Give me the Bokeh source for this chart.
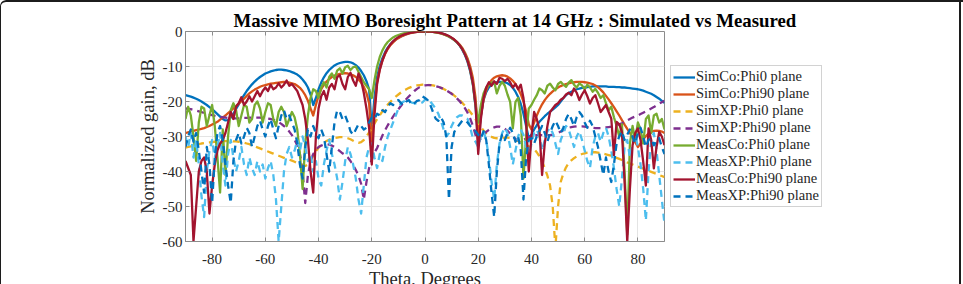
from bokeh.plotting import figure
from bokeh.models import (Legend, LegendItem, LinearAxis, FixedTicker, Range1d,
                          PrintfTickFormatter)
from bokeh.embed import file_html
from bokeh.resources import INLINE

# Elevation cut, 1 degree steps
theta = list(range(-90, 91))

sim_co_phi0 = [
    -18.2, -18.4, -18.6, -18.9, -19.2, -19.6, -20.0, -20.5, -21.0, -21.6,
    -22.2, -22.9, -23.6, -24.3, -25.0, -25.4, -25.3, -24.6, -23.5, -22.1,
    -20.8, -19.4, -18.2, -17.0, -16.0, -15.1, -14.3, -13.6, -13.0, -12.5,
    -12.0, -11.7, -11.4, -11.2, -11.0, -10.9, -10.9, -11.0, -11.1, -11.3,
    -11.6, -11.9, -12.3, -12.9, -13.7, -14.7, -16.0, -18.0, -21.0, -19.0,
    -16.5, -14.6, -13.1, -11.9, -11.0, -10.3, -9.7, -9.3, -9.0, -8.8,
    -8.7, -8.7, -8.8, -9.1, -9.6, -10.3, -11.3, -12.5, -14.2, -16.5,
    -28.0, -19.0, -13.0, -9.8, -7.6, -5.9, -4.6, -3.6, -2.9, -2.3,
    -1.8, -1.4, -1.05, -0.75, -0.5, -0.32, -0.2, -0.1, -0.04, -0.01,
    0.0, -0.01, -0.04, -0.1, -0.2, -0.33, -0.5, -0.75, -1.05, -1.45,
    -1.9, -2.45, -3.1, -4.0, -5.2, -6.7, -8.7, -11.4, -15.2, -21.5,
    -31.0, -24.0, -19.5, -17.3, -16.0, -15.2, -14.8, -14.5, -14.4, -14.4,
    -14.5, -14.8, -15.3, -16.1, -17.2, -18.7, -20.7, -23.5, -27.0, -30.5,
    -29.5, -28.0, -26.8, -25.8, -25.0, -24.2, -23.5, -22.9, -22.3, -21.7,
    -21.0, -20.0, -19.0, -18.2, -17.6, -17.2, -16.8, -16.5, -16.3, -16.1,
    -16.0, -15.9, -15.8, -15.7, -15.7, -15.7, -15.7, -15.7, -15.7, -15.8,
    -15.8, -15.8, -15.9, -15.9, -16.0, -16.0, -16.1, -16.2, -16.3, -16.4,
    -16.5, -16.7, -16.9, -17.2, -17.5, -17.8, -18.2, -18.7, -19.2, -19.8, -20.4,
]

sim_co_phi90 = [
    -29.0, -28.8, -28.6, -28.4, -28.2, -28.0, -27.8, -27.6, -27.3, -27.0,
    -26.6, -26.2, -25.8, -25.2, -24.6, -24.0, -23.3, -22.7, -22.0, -21.3,
    -20.6, -19.9, -19.2, -18.4, -17.7, -17.1, -16.6, -16.2, -15.8, -15.5,
    -15.3, -15.1, -14.9, -14.8, -14.7, -14.6, -14.5, -14.4, -14.5, -14.6,
    -14.8, -15.0, -15.5, -16.1, -17.0, -18.2, -19.8, -22.0, -24.0, -21.0,
    -18.3, -16.5, -15.2, -14.3, -13.6, -13.0, -12.6, -12.3, -12.1, -12.0,
    -11.9, -12.0, -12.2, -12.5, -13.0, -13.7, -14.6, -15.8, -17.6, -20.5,
    -32.0, -22.0, -14.5, -10.8, -8.3, -6.4, -5.0, -3.9, -3.1, -2.4,
    -1.9, -1.45, -1.1, -0.8, -0.55, -0.36, -0.22, -0.12, -0.05, -0.01,
    0.0, -0.02, -0.06, -0.13, -0.24, -0.38, -0.56, -0.8, -1.1, -1.45,
    -1.85, -2.35, -2.95, -3.7, -4.7, -6.0, -7.7, -10.0, -13.3, -19.0,
    -30.0, -24.0, -19.5, -16.8, -15.0, -13.9, -13.2, -12.8, -12.6, -12.5,
    -12.6, -12.9, -13.4, -14.1, -15.0, -16.3, -17.9, -20.0, -22.8, -26.5,
    -28.0, -26.0, -24.0, -22.3, -20.8, -19.6, -18.6, -17.8, -17.1, -16.5,
    -16.0, -15.6, -15.3, -15.0, -14.8, -14.6, -14.5, -14.4, -14.4, -14.4,
    -14.5, -14.6, -14.8, -15.0, -15.4, -15.9, -16.6, -17.4, -18.4, -19.4,
    -20.5, -21.6, -22.8, -24.0, -25.3, -26.6, -27.8, -29.0, -30.3, -31.6,
    -33.0, -32.0, -30.8, -29.9, -29.2, -28.7, -28.4, -28.3, -28.4, -28.6, -29.0,
]

sim_xp_phi0 = [
    -33.2, -33.0, -32.8, -32.6, -32.4, -32.2, -32.0, -31.9, -31.8, -31.7,
    -31.6, -31.5, -31.4, -31.4, -31.3, -31.3, -31.3, -31.3, -31.4, -31.4,
    -31.5, -31.6, -31.8, -32.0, -32.2, -32.5, -32.8, -33.1, -33.4, -33.7,
    -34.0, -34.3, -34.6, -34.9, -35.2, -35.5, -35.8, -36.1, -36.4, -36.6,
    -36.9, -37.2, -37.6, -38.0, -38.3, -38.4, -38.0, -37.0, -35.5, -34.2,
    -33.2, -32.4, -31.8, -31.3, -30.9, -30.6, -30.4, -30.3, -30.2, -30.2,
    -30.3, -30.5, -30.8, -31.2, -31.6, -31.8, -31.6, -31.0, -30.0, -28.8,
    -27.5, -26.3, -25.0, -23.9, -22.8, -21.8, -20.9, -20.1, -19.3, -18.6,
    -18.0, -17.4, -16.9, -16.5, -16.1, -15.8, -15.6, -15.4, -15.3, -15.2,
    -15.2, -15.2, -15.3, -15.4, -15.6, -15.8, -16.1, -16.4, -16.8, -17.2,
    -17.7, -18.3, -18.9, -19.6, -20.4, -21.2, -22.1, -23.0, -24.0, -25.1,
    -26.2, -27.3, -28.3, -29.1, -29.7, -30.1, -30.4, -30.5, -30.5, -30.4,
    -30.3, -30.3, -30.4, -30.6, -30.9, -31.3, -31.7, -32.1, -32.5, -32.8,
    -33.0, -33.6, -34.5, -35.7, -37.2, -39.0, -41.2, -44.0, -50.0, -62.0,
    -50.0, -43.0, -40.5, -38.8, -37.6, -36.8, -36.2, -35.7, -35.3, -35.0,
    -34.8, -34.6, -34.5, -34.5, -34.5, -34.6, -34.7, -34.9, -35.1, -35.3,
    -35.5, -35.8, -36.1, -36.4, -36.7, -37.0, -37.4, -37.7, -38.0, -38.3,
    -38.6, -38.9, -39.2, -39.5, -39.8, -40.1, -40.4, -40.7, -41.0, -41.3, -41.6,
]

sim_xp_phi90 = [
    -22.0, -22.1, -22.2, -22.4, -22.6, -22.8, -23.0, -23.3, -23.5, -23.7,
    -23.9, -24.1, -24.3, -24.4, -24.5, -24.6, -24.7, -24.7, -24.8, -24.8,
    -24.8, -24.8, -24.7, -24.7, -24.6, -24.6, -24.6, -24.6, -24.6, -24.7,
    -24.8, -24.9, -25.0, -25.2, -25.5, -25.9, -26.4, -27.0, -27.7, -28.6,
    -29.6, -30.9, -32.6, -35.0, -40.0, -49.0, -41.0, -37.0, -35.0, -33.8,
    -33.0, -32.6, -32.3, -32.2, -32.3, -32.6, -33.0, -33.6, -34.2, -34.8,
    -35.3, -36.0, -37.0, -38.2, -39.6, -41.2, -43.5, -48.0, -43.0, -39.0,
    -36.5, -34.6, -33.3, -31.5, -29.7, -28.2, -26.8, -25.5, -24.3, -23.2,
    -22.2, -21.2, -20.2, -19.3, -18.5, -17.7, -17.0, -16.4, -15.9, -15.6,
    -15.4, -15.3, -15.3, -15.4, -15.6, -15.8, -16.1, -16.4, -16.8, -17.3,
    -17.8, -18.4, -19.1, -19.9, -20.8, -21.9, -23.2, -24.9, -27.0, -29.6,
    -31.8, -30.5, -29.5, -28.7, -28.1, -27.7, -27.4, -27.2, -27.2, -27.4,
    -27.8, -28.4, -29.2, -30.0, -30.7, -31.1, -31.2, -31.0, -30.6, -30.2,
    -29.9, -29.7, -29.6, -29.6, -29.6, -29.6, -29.6, -29.6, -29.5, -29.3,
    -29.0, -28.6, -28.2, -27.8, -27.5, -27.3, -27.2, -27.1, -27.1, -27.1,
    -27.2, -27.3, -27.4, -27.5, -27.6, -27.6, -27.6, -27.5, -27.4, -27.3,
    -27.2, -27.0, -26.8, -26.5, -26.2, -25.8, -25.4, -25.0, -24.6, -24.3,
    -24.0, -23.6, -23.2, -22.8, -22.4, -22.0, -21.6, -21.1, -20.6, -20.2, -19.8,
]

meas_co_phi0 = [
    -25.0, -21.5, -24.0, -30.0, -37.0, -26.0, -21.5, -22.0, -27.0, -24.0,
    -21.0, -27.0, -36.0, -46.0, -28.0, -41.0, -30.0, -22.5, -20.5, -22.5,
    -27.0, -24.0, -21.0, -21.5, -26.0, -25.0, -21.0, -20.0, -22.0, -26.0,
    -23.0, -20.5, -21.0, -25.0, -27.0, -23.0, -21.5, -23.0, -27.0, -25.0,
    -23.0, -24.5, -28.0, -35.0, -45.0, -32.0, -24.0, -19.0, -16.5, -17.0,
    -19.0, -16.0, -14.5, -16.0, -13.0, -12.0, -13.5, -11.2, -10.5, -12.0,
    -10.2, -9.8, -11.0, -10.2, -10.0, -11.5, -13.0, -14.5, -15.5, -16.5,
    -19.0, -14.0, -10.0, -7.3, -5.4, -4.0, -3.0, -2.3, -1.7, -1.3,
    -1.0, -0.75, -0.55, -0.4, -0.28, -0.18, -0.1, -0.05, -0.02, 0.0,
    0.0, -0.02, -0.06, -0.12, -0.22, -0.35, -0.52, -0.75, -1.05, -1.4,
    -1.85, -2.4, -3.05, -3.9, -5.0, -6.4, -8.3, -11.0, -15.0, -21.0,
    -26.0, -21.0, -17.7, -16.0, -15.3, -14.6, -14.4, -17.7, -15.5, -14.4,
    -15.5, -18.0, -20.1, -27.7, -20.1, -19.0, -24.0, -42.0, -30.0, -22.0,
    -21.0, -19.5, -18.2, -16.3, -16.8, -17.7, -15.5, -14.9, -16.0, -16.8,
    -15.0, -14.4, -15.2, -15.8, -14.6, -13.9, -15.2, -16.0, -14.8, -15.4,
    -16.5, -15.2, -16.0, -17.2, -16.4, -17.5, -19.0, -18.2, -20.5, -22.5,
    -21.5, -24.5, -27.0, -30.0, -26.5, -40.0, -58.0, -32.0, -27.0, -31.0,
    -26.0, -28.0, -32.0, -25.0, -24.0, -29.0, -24.0, -23.5, -26.0, -25.0, -28.0,
]

meas_xp_phi0 = [
    -30, -33, -29, -36, -31, -38, -47, -53, -40, -34,
    -31, -36, -33, -29, -38, -44, -35, -31, -36, -40,
    -37, -33, -38, -41, -36, -39, -41, -37, -40, -38,
    -42, -39, -37, -41, -48, -60, -50, -40, -35, -33,
    -36, -34, -31, -34, -30, -33, -37, -35, -40, -37,
    -42, -44, -38, -34, -31, -35, -38, -42, -48, -43,
    -37, -33, -35, -38, -42, -48, -52, -44, -36, -33,
    -32, -36, -39, -35, -37, -33, -30, -28, -26, -24,
    -22, -20.5, -20, -19.8, -20, -20.3, -20.5, -20.6, -20.6, -20.3,
    -19.5, -19.2, -20, -21, -22, -23.5, -25.5, -28, -30, -29,
    -27, -25.5, -24.5, -24, -24, -24.5, -25, -27.5, -30.5, -31.5,
    -33, -30, -28.5, -31, -36, -43, -48, -38, -32, -29,
    -27.5, -29, -33, -38, -34, -30, -28, -29.5, -33, -36,
    -32, -29, -28, -30, -34, -31, -28.5, -27.5, -29, -32,
    -35, -31, -29, -27, -28, -30.5, -33, -30, -28.5, -31,
    -34, -37, -39, -33, -30, -29, -31.5, -29, -27.5, -30,
    -34, -39, -45, -50, -42, -33, -31, -36, -32, -29.5,
    -33, -38, -45, -54, -40, -31, -29, -34, -41, -48, -55,
]

meas_co_phi90 = [
    -37, -39, -41, -60, -50, -40, -37, -36, -40, -52,
    -44, -38, -34, -32, -31, -29, -26, -23, -25, -21.5,
    -20.5, -18.8, -21, -20, -18.5, -20, -18.5, -17, -18.5, -17,
    -16, -17, -15.2, -16.5, -16, -14.8, -16, -15.2, -14, -15.5,
    -15, -16, -17, -19, -21, -25, -31, -40, -46, -30,
    -22, -18.5, -17, -19.5, -16, -15, -16.5, -13, -12.5, -15,
    -16.5, -13, -11.8, -14, -15.5, -12, -14, -17.5, -22, -27.5,
    -38, -24, -15, -11, -8.3, -6.3, -4.8, -3.7, -2.8, -2.1,
    -1.6, -1.2, -0.9, -0.65, -0.45, -0.3, -0.18, -0.1, -0.04, -0.01,
    0.0, -0.02, -0.06, -0.12, -0.2, -0.32, -0.48, -0.7, -0.95, -1.3,
    -1.75, -2.3, -3.0, -3.9, -5.0, -6.5, -8.4, -11.0, -14.8, -21.0,
    -35, -25, -19, -16, -14.5, -15.5, -14.2, -15, -13.2, -13.5,
    -14.2, -13.5, -14.5, -16, -15, -16.5, -15.2, -19, -26, -40,
    -30, -23, -25, -28, -41, -32, -27, -23, -22, -21,
    -20.5, -19.5, -19, -18, -17.5, -18.2, -16.3, -17.5, -19.6, -18,
    -16.8, -18.5, -20.6, -19, -18.2, -20.5, -23, -22, -21, -23,
    -24.9, -35.3, -25.8, -26.5, -28.7, -43, -60, -45, -32.5, -29,
    -27.7, -31, -37.2, -44, -27.7, -31, -39.1, -33, -28.7, -30, -32.5,
]

meas_xp_phi90 = [
    -33, -30, -28, -31.5, -29, -34, -40, -46, -33, -38,
    -49, -36, -29, -27, -31, -38, -44, -49, -37, -31,
    -29, -32, -30, -27.5, -29, -33, -30, -27, -25.5, -28,
    -30, -27, -25, -28, -30.5, -27, -24, -22.5, -25, -24,
    -26, -28, -32, -38, -42, -33, -28, -30, -27, -29,
    -30.5, -28, -30, -35, -40, -33, -26, -22.5, -23, -25,
    -24, -26, -28.5, -29.5, -28, -26.5, -27, -28, -27.5, -26,
    -24.5, -25, -23.5, -24, -22.5, -23, -21.5, -20.5, -21, -20,
    -19.6, -20.5, -21, -20, -19.6, -21, -20.5, -19.8, -19.6, -18.5,
    -19, -19.6, -21, -23, -24.9, -25.5, -24.5, -26, -30, -48,
    -33, -28.7, -27.5, -26.5, -25.5, -25.3, -26, -27, -27.7, -28.5,
    -29.5, -30.5, -28.5, -31, -38, -46, -53, -40, -32, -29.5,
    -31, -29, -27.5, -29, -31.5, -30, -34, -48, -36, -31,
    -30.5, -32, -30, -28.5, -27, -29, -31.5, -29, -27, -25.5,
    -27, -29, -27.5, -25, -23.5, -25, -27, -24.5, -23, -24,
    -26, -27.5, -25.5, -27, -30, -33, -37, -41, -36, -40,
    -43, -38, -32, -30, -28.5, -31, -29.5, -28, -30, -32,
    -29, -27.5, -30, -33, -31, -30.5, -32.5, -31, -30.5, -33, -35,
]

series_names = [
    "SimCo:Phi0 plane", "SimCo:Phi90 plane", "SimXP:Phi0 plane", "SimXP:Phi90 plane",
    "MeasCo:Phi0 plane", "MeasXP:Phi0 plane", "MeasCo:Phi90 plane", "MeasXP:Phi90 plane",
]
series_values = [
    sim_co_phi0, sim_co_phi90, sim_xp_phi0, sim_xp_phi90,
    meas_co_phi0, meas_xp_phi0, meas_co_phi90, meas_xp_phi90,
]
series_colors = ["#0072BD", "#D95319", "#EDB120", "#7E2F8E",
                 "#77AC30", "#4DBEEE", "#A2142F", "#0072BD"]
series_dashed = [False, False, True, True, False, True, False, True]

x_ticks = [-80, -60, -40, -20, 0, 20, 40, 60, 80]
y_ticks = [-60, -50, -40, -30, -20, -10, 0]

SERIF = "Liberation Serif"
INK = "#262626"
EDGE = "#8c8c8c"
FRAME = "#1c1c1c"

p = figure(
    frame_width=479, frame_height=210,
    x_range=Range1d(-90, 90), y_range=Range1d(-60, 0),
    output_backend="svg", toolbar_location=None,
    min_border_left=185, min_border_right=290,
    min_border_top=31, min_border_bottom=43,
    background_fill_color="white", border_fill_color=None,
    styles={
        "background-color": "white",
        # right edge of the figure frame, painted beneath the transparent border area
        "background-image": (f"linear-gradient(90deg, rgba(0,0,0,0) 959px, {FRAME} 959px, "
                             f"{FRAME} 961px, rgba(0,0,0,0) 961px)"),
        "border-top-left-radius": "6px",
        "box-shadow": f"inset 1px 0 0 {FRAME}, inset 0 2px 0 {FRAME}",
    },
)

p.title.text = "Massive MIMO Boresight Pattern at 14 GHz : Simulated vs Measured"
p.title.text_font = SERIF
p.title.text_font_style = "bold"
p.title.text_font_size = "18.8px"
p.title.text_color = "#000000"
p.title.align = "left"
p.title.offset = 48
p.title.standoff = 2

p.outline_line_color = EDGE
p.outline_line_width = 1

p.xgrid.ticker = FixedTicker(ticks=x_ticks)
p.ygrid.ticker = FixedTicker(ticks=y_ticks)
for g in (p.xgrid[0], p.ygrid[0]):
    g.grid_line_color = "#e4e4e4"
    g.grid_line_width = 1

xa = p.xaxis[0]
ya = p.yaxis[0]
xa.ticker = FixedTicker(ticks=x_ticks)
ya.ticker = FixedTicker(ticks=y_ticks)
xa.axis_label = "Theta, Degrees"
ya.axis_label = "Normalized gain, dB"
for ax in (xa, ya):
    ax.formatter = PrintfTickFormatter(format="%d")
    ax.axis_line_color = EDGE
    ax.major_tick_line_color = EDGE
    ax.major_tick_in = 4
    ax.major_tick_out = 0
    ax.minor_tick_line_color = None
    ax.major_label_text_font = SERIF
    ax.major_label_text_font_size = "15px"
    ax.major_label_text_color = INK
    ax.axis_label_text_font = SERIF
    ax.axis_label_text_font_size = "18.5px"
    ax.axis_label_text_font_style = "normal"
    ax.axis_label_text_color = INK
xa.major_label_standoff = 12
xa.axis_label_standoff = 2
ya.major_label_standoff = 3
ya.axis_label_standoff = 2

# box ticks along the top edge
top_ax = LinearAxis(ticker=FixedTicker(ticks=x_ticks), axis_line_color=None,
                    major_tick_line_color=EDGE, major_tick_in=4, major_tick_out=0,
                    minor_tick_line_color=None, major_label_text_font_size="0px",
                    major_label_standoff=0, axis_label_standoff=0)
p.add_layout(top_ax, "above")

items = []
for name, vals, col, dashed in zip(series_names, series_values, series_colors, series_dashed):
    r = p.line(theta, vals, line_color=col, line_width=2.3,
               line_dash="7 5" if dashed else "solid",
               line_join="round", line_cap="butt")
    items.append(LegendItem(label=name, renderers=[r]))

legend = Legend(
    items=items, location="center_left", orientation="vertical",
    label_text_font=SERIF, label_text_font_size="14.5px", label_text_color=INK,
    label_text_line_height=1.0,
    glyph_width=22, glyph_height=16, label_height=16, label_standoff=1,
    spacing=0, padding=2, margin=6,
    border_line_color="#a6a6a6", border_line_width=1,
    background_fill_color="white", background_fill_alpha=1.0,
)
p.add_layout(legend, "right")

open("out.html", "w").write(file_html(p, INLINE))
